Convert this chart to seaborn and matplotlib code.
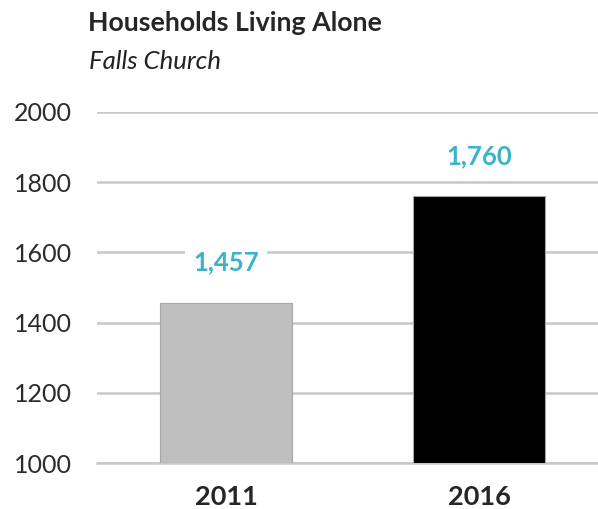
import numpy as np
import pandas as pd
import seaborn as sns
import matplotlib.pyplot as plt

years = ['2011', '2016']
households = [1457, 1760]
bar_colors = ['#BFBFBF', '#000000']

df = pd.DataFrame({'year': years, 'households': households})

sns.set_style('white')
plt.rcParams['font.family'] = ['Lato', 'DejaVu Sans']

fig = plt.figure(figsize=(5.98, 5.09), dpi=100)
ax = fig.add_axes([0.162, 0.090, 0.838, 0.690])

sns.barplot(data=df, x='year', y='households', hue='year', palette=bar_colors,
            legend=False, width=0.52, ax=ax, zorder=3,
            edgecolor='#A6A6A6', linewidth=0.8)

ax.set_ylim(1000, 2000)
ax.set_yticks([1000, 1200, 1400, 1600, 1800, 2000])
ax.set_xlim(-0.51, 1.47)
ax.yaxis.grid(True, color='#C8C8C8', linewidth=1.8, zorder=0)
ax.set_axisbelow(True)
for s in ['top', 'right', 'left']:
    ax.spines[s].set_visible(False)
ax.spines['bottom'].set_color('#C8C8C8')
ax.spines['bottom'].set_linewidth(1.8)
ax.set_xlabel('')
ax.set_ylabel('')
ax.tick_params(axis='y', labelsize=18, colors='#2b2b2b', length=0, pad=18)
ax.tick_params(axis='x', labelsize=19.5, length=0, pad=16)
for lbl in ax.get_xticklabels():
    lbl.set_fontweight('bold')

for i, v in enumerate(households):
    ax.annotate(f'{v:,}', (i, v), xytext=(0, 29), textcoords='offset points',
                ha='center', va='center', fontsize=18.5, fontweight='bold',
                color='#3BB3C8',
                bbox=dict(facecolor='white', edgecolor='none', pad=6))

fig.text(0.147, 0.955, 'Households Living Alone', fontsize=19.3,
         fontweight='bold', ha='left', va='center')
fig.text(0.149, 0.879, 'Falls Church', fontsize=18.5, style='italic',
         ha='left', va='center', color='#222222')

plt.savefig('out.png', dpi=100)
